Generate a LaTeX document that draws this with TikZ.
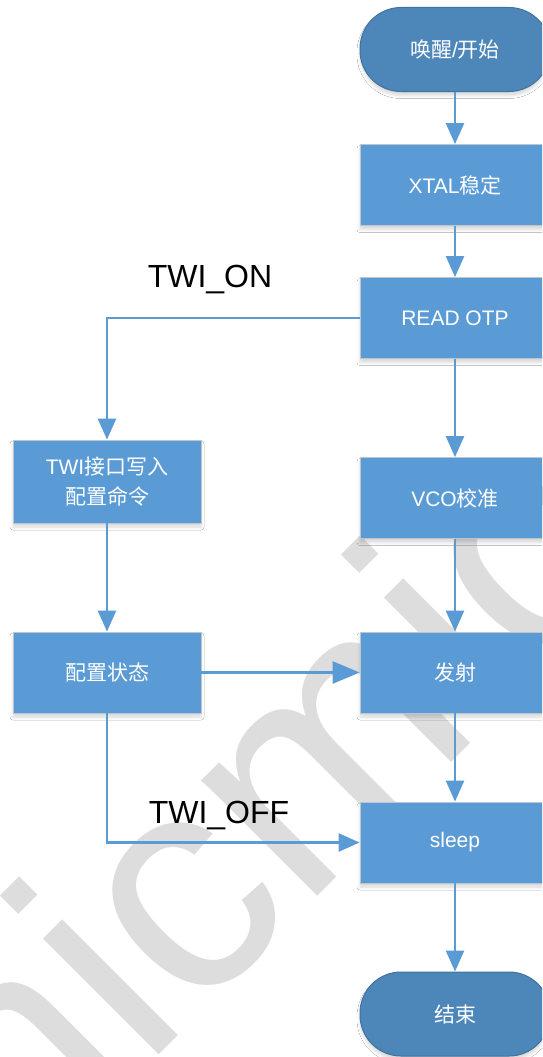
\documentclass[tikz,border=0pt]{standalone}
\usepackage{fontspec}
\setmainfont{Liberation Sans}
\newfontfamily\cjkfont{Noto Sans CJK SC}
\newcommand{\zh}[1]{{\cjkfont #1}}
\usetikzlibrary{arrows.meta,shadows.blur}
\definecolor{boxblue}{HTML}{5B9BD5}
\definecolor{termblue}{HTML}{4D87BA}
\definecolor{termedge}{HTML}{41719C}
\definecolor{boxedge}{HTML}{BCC6D0}
\definecolor{wmgray}{HTML}{DDDDDD}
\tikzset{
  base/.style={shape=rectangle, text=white, align=center,
    font=\fontsize{21}{30}\selectfont,
    blur shadow={shadow xshift=0pt, shadow yshift=-4pt, shadow blur radius=3pt, shadow opacity=15}},
  stepbox/.style={base, fill=boxblue, draw=boxedge, line width=0.8pt,
    minimum width=190pt, minimum height=81pt, inner sep=0pt},
  termbox/.style={base, fill=termblue, draw=termedge, line width=1pt,
    minimum width=190pt, minimum height=84pt, rounded corners=41pt, inner sep=0pt},
  arr/.style={draw=boxblue, line width=2.5pt, -{Triangle[length=21pt,width=18pt]}},
  lbl/.style={text=black, font=\fontsize{32}{32}\selectfont, inner sep=0pt}
}
\begin{document}
\begin{tikzpicture}[x=1pt,y=-1pt]
\useasboundingbox (0,0) rectangle (542,1057);
\begin{scope}
\clip (0,0) rectangle (542,1057);
\fill[white] (0,0) rectangle (542,1057);
% watermark
\node[rotate=45, anchor=base west, text=wmgray, inner sep=0pt,
      font=\fontsize{310}{310}\selectfont] (wm) at (-38,1252) {micmic};
% nodes
\node[termbox] (start) at (455,49.5) {\zh{唤醒}/\zh{开始}};
\node[stepbox] (xtal) at (455,185) {XTAL\zh{稳定}};
\node[stepbox] (otp) at (455,318) {READ OTP};
\node[stepbox] (vco) at (455,498) {VCO\zh{校准}};
\node[stepbox] (fashe) at (455,672.5) {\zh{发射}};
\node[stepbox] (sleep) at (455,842.5) {sleep};
\node[termbox] (end) at (455,1014) {\zh{结束}};
\node[stepbox, minimum width=188pt, minimum height=83pt] (twi) at (107,481.5) {TWI\zh{接口写入}\\\zh{配置命令}};
\node[stepbox, minimum width=188pt] (cfg) at (107,672.5) {\zh{配置状态}};
% labels
\node[lbl] (on) at (210,280) {TWI\_ON};
\node[lbl] (off) at (219,815) {TWI\_OFF};
% connectors
\draw[arr] (start) -- (xtal);
\draw[arr] (xtal) -- (otp);
\draw[arr] (otp.west) -| (twi.north);
\draw[arr] (otp) -- (vco);
\draw[arr] (vco) -- (fashe);
\draw[arr] (twi) -- (cfg);
\draw[arr, -{Triangle[length=27pt,width=22pt]}] (cfg) -- (fashe);
\draw[arr] (cfg.south) |- (sleep.west);
\draw[arr] (fashe) -- (sleep);
\draw[arr] (sleep) -- (end);
\end{scope}
\end{tikzpicture}
\end{document}
